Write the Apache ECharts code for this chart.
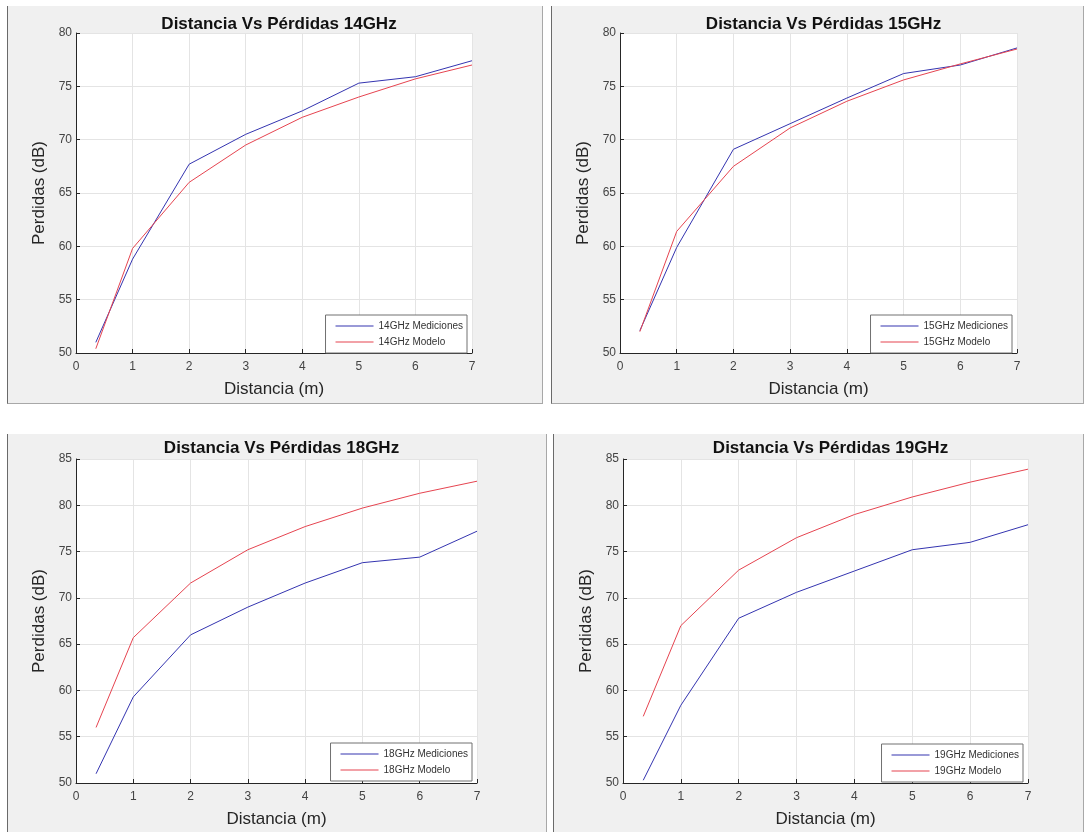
<!DOCTYPE html>
<html>
<head>
<meta charset="utf-8">
<title>Distancia Vs Pérdidas</title>
<script src="https://cdn.jsdelivr.net/npm/echarts/dist/echarts.min.js"></script>
<style>
  body { margin: 0; background: #fff; width: 1084px; height: 832px; position: relative; overflow: hidden; }
  .panel {
    position: absolute;
    background: #f0f0f0;
    border-left: 1px solid #6a6a6a;
    border-right: 1px solid #a8a8a8;
    border-bottom: 1px solid #a8a8a8;
    box-sizing: border-box;
  }
</style>
</head>
<body>
<div id="c14" class="panel" style="left:7px;top:6px;width:536px;height:398px"></div>
<div id="c15" class="panel" style="left:551px;top:6px;width:533px;height:398px"></div>
<div id="c18" class="panel" style="left:7px;top:434px;width:540px;height:400px"></div>
<div id="c19" class="panel" style="left:553px;top:434px;width:531px;height:400px"></div>

<script>
  // distancia (m) de cada medida
  const distancia = [0.35, 1, 2, 3, 4, 5, 6, 7];

  // perdidas (dB)
  const med14 = [51.0, 58.8, 67.7, 70.5, 72.7, 75.3, 75.9, 77.4];
  const mod14 = [50.4, 59.8, 66.0, 69.5, 72.1, 74.0, 75.7, 77.0];
  const med15 = [52.1, 59.9, 69.1, 71.5, 73.9, 76.2, 77.0, 78.6];
  const mod15 = [52.0, 61.4, 67.5, 71.1, 73.6, 75.6, 77.1, 78.5];
  const med18 = [51.0, 59.3, 66.0, 69.0, 71.6, 73.8, 74.4, 77.2];
  const mod18 = [56.0, 65.7, 71.6, 75.2, 77.7, 79.7, 81.3, 82.6];
  const med19 = [50.3, 58.4, 67.8, 70.6, 72.9, 75.2, 76.0, 77.9];
  const mod19 = [57.2, 67.0, 73.0, 76.5, 79.0, 80.9, 82.5, 83.9];

  // ejes
  const xTicks = [0, 7, 1];       // min, max, paso
  const yTicksTop = [50, 80, 5];
  const yTicksBottom = [50, 85, 5];

  const azul = '#3434b0';
  const rojo = '#e64450';

  function pares(y) {
    return distancia.map((d, i) => [d, y[i]]);
  }

  function initChart(id, freq, med, mod, yTicks, grid, titleTop) {
    const el = document.getElementById(id);
    const chart = echarts.init(el);
    const W = el.clientWidth;
    const H = el.clientHeight;

    chart.setOption({
      animation: false,
      title: {
        text: 'Distancia Vs Pérdidas ' + freq,
        left: grid.left + grid.width / 2,
        textAlign: 'center',
        top: titleTop,
        textStyle: {
          fontFamily: 'Liberation Sans, Arial, sans-serif',
          fontWeight: 'bold',
          fontSize: 17,
          color: '#111'
        }
      },
      legend: {
        orient: 'vertical',
        right: W - grid.left - grid.width + 5,
        bottom: H - grid.top - grid.height + 6,
        data: [freq + ' Mediciones', freq + ' Modelo'],
        icon: 'rect',
        itemWidth: 38,
        itemHeight: 1,
        itemGap: 4,
        selectedMode: false,
        backgroundColor: '#fff',
        borderColor: '#707070',
        borderWidth: 1,
        borderRadius: 0,
        padding: [5, 4, 5, 10],
        textStyle: {
          fontFamily: 'Liberation Sans, Arial, sans-serif',
          fontSize: 10,
          lineHeight: 12,
          color: '#333'
        }
      },
      grid: {
        left: grid.left,
        top: grid.top,
        width: grid.width,
        height: grid.height,
        backgroundColor: '#fff',
        show: true,
        borderWidth: 0
      },
      xAxis: {
        type: 'value',
        min: xTicks[0],
        max: xTicks[1],
        interval: xTicks[2],
        name: 'Distancia (m)',
        nameLocation: 'middle',
        nameGap: 28,
        nameTextStyle: {
          fontFamily: 'Liberation Sans, Arial, sans-serif',
          fontSize: 17,
          color: '#262626'
        },
        axisLine: { lineStyle: { color: '#262626', width: 1 } },
        axisTick: { inside: true, length: 4, lineStyle: { color: '#262626' } },
        axisLabel: {
          margin: 8,
          fontFamily: 'Liberation Sans, Arial, sans-serif',
          fontSize: 12,
          color: '#444'
        },
        splitLine: { lineStyle: { color: '#e4e4e4' } }
      },
      yAxis: {
        type: 'value',
        min: yTicks[0],
        max: yTicks[1],
        interval: yTicks[2],
        name: 'Perdidas (dB)',
        nameLocation: 'middle',
        nameGap: 25,
        nameTextStyle: {
          fontFamily: 'Liberation Sans, Arial, sans-serif',
          fontSize: 17,
          color: '#262626'
        },
        axisLine: { show: true, lineStyle: { color: '#262626', width: 1 } },
        axisTick: { show: true, inside: true, length: 4, lineStyle: { color: '#262626' } },
        axisLabel: {
          margin: 4,
          fontFamily: 'Liberation Sans, Arial, sans-serif',
          fontSize: 12,
          color: '#444'
        },
        splitLine: { lineStyle: { color: '#e4e4e4' } }
      },
      series: [
        {
          name: freq + ' Mediciones',
          type: 'line',
          symbol: 'none',
          color: azul,
          lineStyle: { width: 1, color: azul },
          data: pares(med)
        },
        {
          name: freq + ' Modelo',
          type: 'line',
          symbol: 'none',
          color: rojo,
          lineStyle: { width: 1, color: rojo },
          data: pares(mod)
        }
      ]
    });
    return chart;
  }

  initChart('c14', '14GHz', med14, mod14, yTicksTop, { left: 68, top: 27, width: 396, height: 326 }, 5);
  initChart('c15', '15GHz', med15, mod15, yTicksTop, { left: 68, top: 27, width: 397, height: 326 }, 5);
  initChart('c18', '18GHz', med18, mod18, yTicksBottom, { left: 68, top: 25, width: 401, height: 328 }, 1);
  initChart('c19', '19GHz', med19, mod19, yTicksBottom, { left: 69, top: 25, width: 405, height: 329 }, 1);
</script>
</body>
</html>
